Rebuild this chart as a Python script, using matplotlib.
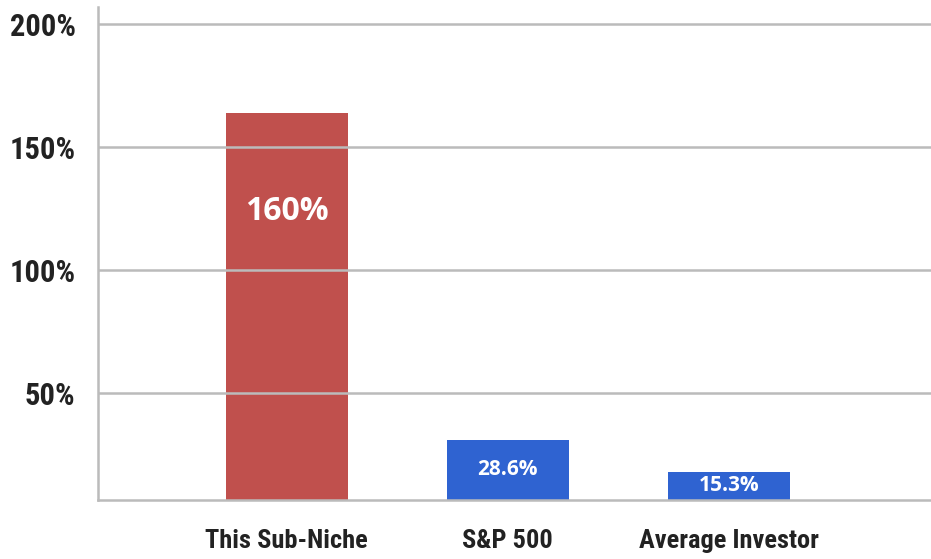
import numpy as np
import matplotlib
matplotlib.use("Agg")
from matplotlib import pyplot as plt
from matplotlib import font_manager

categories = ["This Sub-Niche", "S&P 500", "Average Investor"]
bar_heights = [164, 31, 18]          # heights as drawn in the picture (%)
bar_labels = ["160%", "28.6%", "15.3%"]
bar_colors = ["#C0504D", "#2F63D1", "#2F63D1"]
y_ticks = [50, 100, 150, 200]

# pick a condensed bold font if one is around
names = {f.name for f in font_manager.fontManager.ttflist}
cond_font = "DejaVu Sans"
for cand in ["Roboto Condensed", "Liberation Sans Narrow", "DejaVu Sans Condensed"]:
    if cand in names:
        cond_font = cand
        break

fig = plt.figure(figsize=(9.31, 5.59), dpi=100)
ax = fig.add_axes([0.105, 0.1055, 0.895, 0.882])

x = np.arange(len(categories))
ax.bar(x, bar_heights, width=0.55, color=bar_colors, zorder=1)

ax.set_ylim(6.5, 207)
ax.set_xlim(-0.855, 2.914)

ax.set_yticks(y_ticks)
ax.set_yticklabels([str(t) + "%" for t in y_ticks])
ax.set_xticks(x)
ax.set_xticklabels(categories)

for lab in ax.get_yticklabels():
    lab.set_fontfamily(cond_font)
    lab.set_fontweight("bold")
    lab.set_fontsize(22)
    lab.set_color("#222222")
for lab in ax.get_xticklabels():
    lab.set_fontfamily(cond_font)
    lab.set_fontweight("bold")
    lab.set_fontsize(19)
    lab.set_color("#222222")

ax.tick_params(axis="y", length=0, pad=16)
ax.tick_params(axis="x", length=0, pad=21)

ax.grid(axis="y", color="#BBBBBB", linewidth=1.8, zorder=0)
for s in ["top", "right"]:
    ax.spines[s].set_visible(False)
for s in ["left", "bottom"]:
    ax.spines[s].set_color("#BBBBBB")
    ax.spines[s].set_linewidth(1.8)

# value labels inside the bars
for i, (h, txt) in enumerate(zip(bar_heights, bar_labels)):
    if h > 100:
        ypos = h - 40
        fs = 23
    else:
        ypos = (h + 6.5) / 2
        fs = 15
    ax.text(i, ypos, txt, ha="center", va="center", color="white",
            fontsize=fs, fontweight="bold", family="Open Sans", zorder=3)

plt.savefig("out.png", dpi=100)
